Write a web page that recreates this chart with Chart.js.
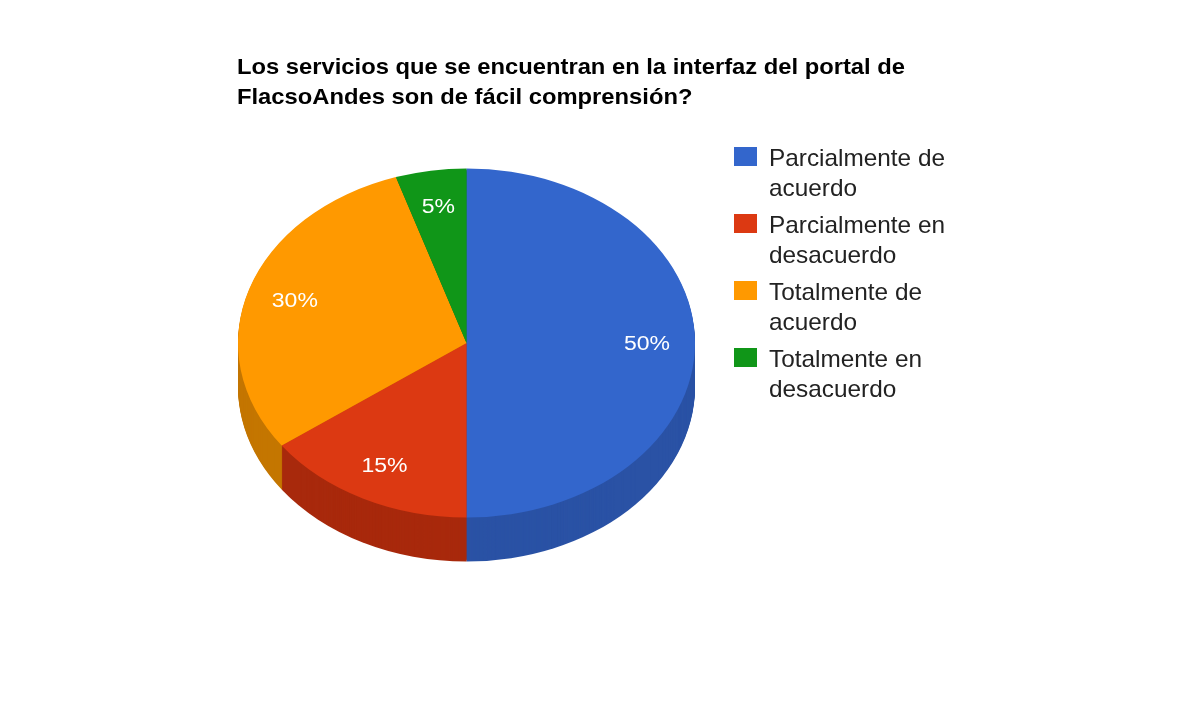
<!DOCTYPE html>
<html>
<head>
<meta charset="utf-8">
<script src="https://cdn.jsdelivr.net/npm/chart.js@4"></script>
<style>
html,body{margin:0;padding:0;background:#fff;}
#wrap{position:relative;width:1195px;height:711px;overflow:hidden;}
#c{position:absolute;left:0;top:0;}
.title{position:absolute;left:237px;font:bold 22px "Liberation Sans",Arial,sans-serif;color:#000;line-height:30px;white-space:nowrap;transform-origin:0 0;}
.leg{position:absolute;left:734px;}
.sw{position:absolute;left:0;width:23px;height:19px;}
.lt{position:absolute;left:35px;top:0;font:24px "Liberation Sans",Arial,sans-serif;color:#222;line-height:30px;white-space:nowrap;transform-origin:0 0;}
</style>
</head>
<body>
<div id="wrap">
<canvas id="c" width="1195" height="711"></canvas>
</div>
<script>
const titleLines = ["Los servicios que se encuentran en la interfaz del portal de", "FlacsoAndes son de fácil comprensión?"];
const categories = ["Parcialmente de acuerdo", "Parcialmente en desacuerdo", "Totalmente de acuerdo", "Totalmente en desacuerdo"];
const legendLines = [["Parcialmente de", "acuerdo"], ["Parcialmente en", "desacuerdo"], ["Totalmente de", "acuerdo"], ["Totalmente en", "desacuerdo"]];
const values = [50, 15, 30, 5];
const topColors = ["#3366cc", "#dc3912", "#ff9900", "#109618"];
const sideColors = ["#2a52a5", "#a8290c", "#c47600", "#0c7313"];

const wrap = document.getElementById('wrap');
const mc = document.createElement('canvas').getContext('2d');

// Title
mc.font = 'bold 22px "Liberation Sans", Arial, sans-serif';
const tScale = 668 / mc.measureText(titleLines[0]).width;
titleLines.forEach((t, i) => {
  const d = document.createElement('div');
  d.className = 'title';
  d.textContent = t;
  d.style.top = (52.4 + i * 30) + 'px';
  d.style.transform = 'scaleX(' + tScale + ')';
  wrap.appendChild(d);
});

// Legend
mc.font = '24px "Liberation Sans", Arial, sans-serif';
const lScale = 176 / mc.measureText(legendLines[0][0]).width;
legendLines.forEach((lines, i) => {
  const g = document.createElement('div');
  g.className = 'leg';
  g.style.top = (142.7 + i * 67) + 'px';
  const sw = document.createElement('div');
  sw.className = 'sw';
  sw.style.background = topColors[i];
  sw.style.top = '4.5px';
  g.appendChild(sw);
  lines.forEach((t, j) => {
    const s = document.createElement('div');
    s.className = 'lt';
    s.textContent = t;
    s.style.top = (j * 30) + 'px';
    s.style.transform = 'scaleX(' + lScale + ')';
    g.appendChild(s);
  });
  wrap.appendChild(g);
});

const K = 174.5 / 228.5;   // vertical squash of the pie
const CY = 343;            // screen centre y of the top face
const DEPTH = 44;

function arcPath(ctx, a) {
  ctx.beginPath();
  ctx.moveTo(a.x, a.y);
  ctx.arc(a.x, a.y, a.outerRadius, a.startAngle, a.endAngle);
  ctx.closePath();
}

const pie3d = {
  id: 'pie3d',
  beforeDatasetsDraw(chart) {
    const ctx = chart.ctx;
    const arcs = chart.getDatasetMeta(0).data;
    const cx = arcs[0].x, cy = arcs[0].y;
    for (let d = DEPTH; d >= 1; d--) {
      ctx.save();
      ctx.translate(cx, CY + d);
      ctx.scale(1, K);
      ctx.translate(-cx, -cy);
      arcs.forEach((a, i) => {
        arcPath(ctx, a);
        ctx.fillStyle = sideColors[i];
        ctx.fill();
      });
      ctx.restore();
    }
    ctx.save();
    ctx.translate(cx, CY);
    ctx.scale(1, K);
    ctx.translate(-cx, -cy);
  },
  afterDatasetsDraw(chart) {
    const ctx = chart.ctx;
    ctx.restore();
    const arcs = chart.getDatasetMeta(0).data;
    const total = values.reduce((s, v) => s + v, 0);
    ctx.save();
    ctx.fillStyle = '#fff';
    ctx.font = '20px "Liberation Sans", Arial, sans-serif';
    ctx.textAlign = 'center';
    ctx.textBaseline = 'middle';
    arcs.forEach((a, i) => {
      const mid = (a.startAngle + a.endAngle) / 2;
      const r = a.outerRadius * 0.79;
      const px = a.x + Math.cos(mid) * r;
      const py = CY + Math.sin(mid) * r * K;
      const txt = Math.round(values[i] / total * 100) + '%';
      ctx.save();
      ctx.translate(px, py + 1);
      ctx.scale(1.15, 1);
      ctx.fillText(txt, 0, 0);
      ctx.restore();
    });
    ctx.restore();
  }
};

new Chart(document.getElementById('c'), {
  type: 'pie',
  data: {
    labels: categories,
    datasets: [{
      data: values,
      backgroundColor: topColors,
      borderWidth: 0,
      hoverOffset: 0
    }]
  },
  options: {
    responsive: false,
    animation: false,
    events: [],
    layout: { padding: { left: 238, right: 500, top: 127, bottom: 127 } },
    plugins: {
      legend: { display: false },
      title: { display: false },
      tooltip: { enabled: false }
    }
  },
  plugins: [pie3d]
});
</script>
</body>
</html>
